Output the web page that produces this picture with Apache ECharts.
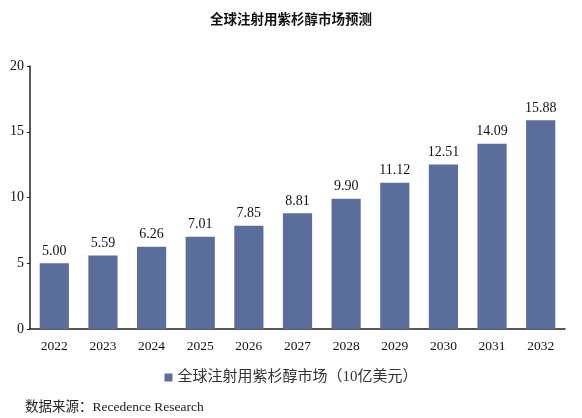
<!DOCTYPE html>
<html>
<head>
<meta charset="utf-8">
<script src="https://cdn.jsdelivr.net/npm/echarts@6/dist/echarts.min.js"></script>
<style>
  html, body { margin: 0; padding: 0; background: #fff; }
  #main { width: 582px; height: 418px; }
</style>
</head>
<body>
<div id="main"></div>
<script>
// 年份与市场规模（10亿美元）
var years = ['2022', '2023', '2024', '2025', '2026', '2027', '2028', '2029', '2030', '2031', '2032'];
var marketValues = [5.00, 5.59, 6.26, 7.01, 7.85, 8.81, 9.90, 11.12, 12.51, 14.09, 15.88];
var seriesName = '全球注射用紫杉醇市场（10亿美元）';

var fontFam = '"Liberation Serif", "Times New Roman", "Noto Sans CJK SC", serif';
var barColor = '#5a6d9b';

var myChart = echarts.init(document.getElementById('main'));

var option = {
    backgroundColor: '#fff',
    textStyle: { fontFamily: fontFam },
    title: [{
        text: '全球注射用紫杉醇市场预测',
        left: 'center',
        top: 9,
        textStyle: { fontFamily: fontFam, fontSize: 13.5, fontWeight: 'bold', color: '#111' }
    }, {
        text: '数据来源：Recedence Research',
        left: 20,
        top: 396,
        textStyle: { fontFamily: fontFam, fontSize: 13.5, fontWeight: 'normal', color: '#222' }
    }],
    legend: {
        bottom: 28,
        left: 'center',
        itemWidth: 8,
        itemHeight: 8,
        itemGap: 4,
        icon: 'rect',
        textStyle: { fontFamily: fontFam, fontSize: 15, color: '#333' },
        data: [seriesName]
    },
    grid: { left: 30, right: 17, top: 66, bottom: 89, containLabel: false },
    xAxis: {
        type: 'category',
        data: years,
        axisLine: { lineStyle: { color: '#222', width: 1.5 } },
        axisTick: { show: false },
        axisLabel: { color: '#111', fontSize: 13.5, fontFamily: fontFam, margin: 11 }
    },
    yAxis: {
        type: 'value',
        min: 0,
        max: 20,
        interval: 5,
        axisLine: { show: true, lineStyle: { color: '#222', width: 1.5 } },
        axisTick: { show: true, length: 3, lineStyle: { color: '#222' } },
        splitLine: { show: false },
        axisLabel: { color: '#111', fontSize: 14, fontFamily: fontFam, margin: 6 }
    },
    series: [{
        name: seriesName,
        type: 'bar',
        data: marketValues,
        barWidth: '60%',
        itemStyle: { color: barColor },
        label: {
            show: true,
            position: 'top',
            distance: 5,
            color: '#111',
            fontSize: 14,
            fontFamily: fontFam,
            formatter: function (p) { return p.value.toFixed(2); }
        }
    }]
};
myChart.setOption(option);
</script>
</body>
</html>
